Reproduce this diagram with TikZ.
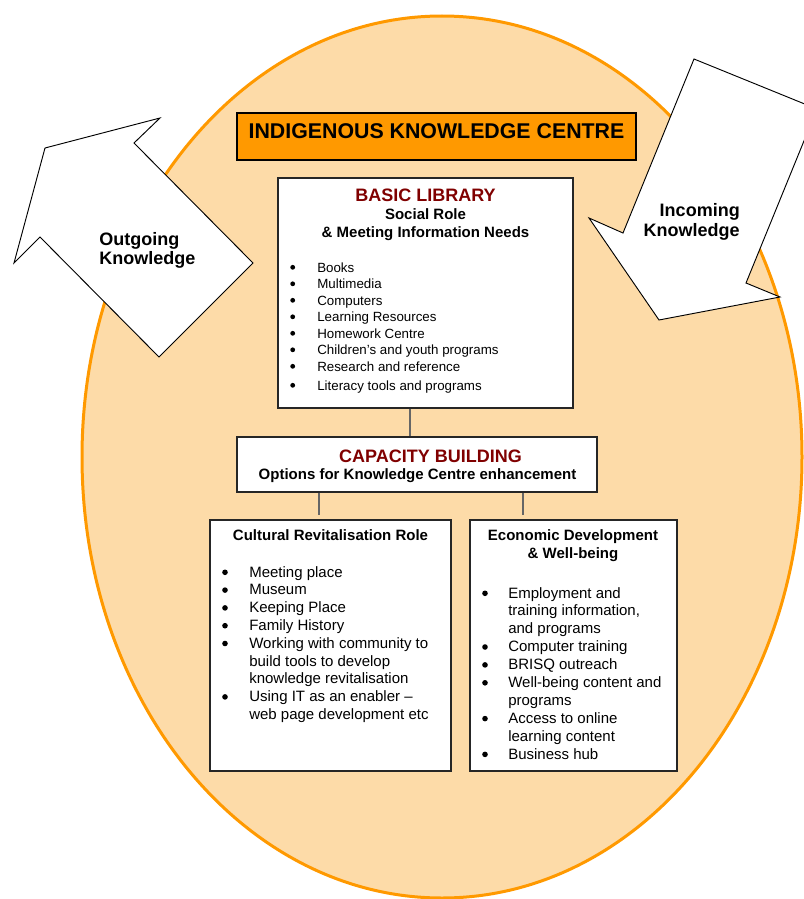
\documentclass[tikz,border=0pt]{standalone}
\usepackage{fontspec}
\setmainfont{Liberation Sans}
\usetikzlibrary{fit}

\definecolor{kcorange}{RGB}{255,153,0}
\definecolor{kcfill}{RGB}{253,219,168}
\definecolor{kcred}{RGB}{128,0,0}

\tikzset{
	box/.style={draw=black!85, line width=1pt, fill=white, inner sep=0pt},
	link/.style={draw=black!60, line width=1.1pt},
	bigarrow/.style={draw=black, line width=0.7pt, fill=white, line join=miter},
	arrowlbl/.style={font=\fontsize{13.5}{16}\selectfont\bfseries, inner sep=0pt},
	head/.style={font=\fontsize{13.5}{16}\selectfont\bfseries, text=kcred, inner sep=0pt, anchor=base},
	sub/.style={font=\fontsize{11.25}{13.5}\selectfont\bfseries, inner sep=0pt, anchor=base},
	item/.style={font=\fontsize{10}{12}\selectfont, inner sep=0pt, anchor=base west},
	bigitem/.style={font=\fontsize{11.25}{13.5}\selectfont, inner sep=0pt, anchor=base west},
	dot/.style={circle, fill=black, inner sep=0pt, minimum size=3.6pt},
	bigdot/.style={dot, minimum size=4.2pt},
}

\begin{document}
\begin{tikzpicture}[x=0.75pt,y=-0.75pt]
	\useasboundingbox (0,0) rectangle (803,899);

	% the centre as a whole
	\draw [kcorange, line width=2.25pt, fill=kcfill] (442,457) ellipse [x radius=360, y radius=441];

	% knowledge flowing out and in
	\draw [bigarrow] (45,148) -- (160,118) -- (134,143) -- (253,263) -- (159,357) -- (40,237) -- (14,263) -- cycle;
	\foreach \t [count=\i] in {Outgoing, Knowledge}
		\node [arrowlbl, anchor=base west] (out-\i) at (99,226+19*\i) {\t};
	\draw [bigarrow] (694,59) -- (817,109) -- (746,283) -- (780,297) -- (659,320) -- (589,218) -- (623,233) -- cycle;
	\node [arrowlbl, anchor=base east] (in-1) at (740,216) {Incoming};
	\node [arrowlbl, anchor=base east] (in-2) at (740,236) {Knowledge};

	% boxes
	\node [box, fill=kcorange, draw=black, fit={(237,113) (636,160)}] (title) {};
	\node [box, fit={(278,178) (573,408)}] (basic) {};
	\node [box, fit={(237,437) (597,492)}] (cap) {};
	\node [box, fit={(210,520) (451,771)}] (cult) {};
	\node [box, fit={(470,520) (677,771)}] (econ) {};

	% links between the boxes
	\draw [link] (basic.south -| 410,0) -- (cap.north -| 410,0);
	\draw [link, shorten >=3.5pt] (cap.south -| 319,0) -- (cult.north -| 319,0);
	\draw [link, shorten >=3.5pt] (cap.south -| 523,0) -- (econ.north -| 523,0);

	\node [font=\fontsize{16}{19}\selectfont\bfseries, inner sep=0pt, anchor=base] (title-txt) at (436.5,138.3) {INDIGENOUS KNOWLEDGE CENTRE};

	% basic library
	\node [head] (basic-head) at (425.5,201) {BASIC LIBRARY};
	\node [sub] (basic-sub1) at (425.5,219) {Social Role};
	\node [sub] (basic-sub2) at (425.5,237) {\& Meeting Information Needs};
	\foreach \y/\t [count=\i] in {272/Books, 288.5/Multimedia, 305/Computers, 321.5/Learning Resources,
			338/Homework Centre, 354.5/Children’s and youth programs, 371/Research and reference,
			390/Literacy tools and programs}
	{
		\node [dot] (basic-dot-\i) at (292.7,\y-4.7) {};
		\node [item] (basic-item-\i) at (317,\y) {\t};
	}

	% capacity building
	\node [head] (cap-head) at (430.5,462) {CAPACITY BUILDING};
	\node [sub] (cap-sub) at (417.5,479) {Options for Knowledge Centre enhancement};

	% cultural revitalisation
	\node [sub] (cult-head) at (330.5,540) {Cultural Revitalisation Role};
	\foreach \t [count=\i from 0] in {Meeting place, Museum, Keeping Place, Family History,
			Working with community to, build tools to develop, knowledge revitalisation,
			Using IT as an enabler –, web page development etc}
		\node [bigitem] (cult-item-\i) at (249,577+17.8*\i) {\t};
	\foreach \i in {0,1,2,3,4,7}
		\node [bigdot] (cult-dot-\i) at (225,572.3+17.8*\i) {};

	% economic development
	\node [sub] (econ-head1) at (573,540) {Economic Development};
	\node [sub] (econ-head2) at (573,558) {\& Well-being};
	\foreach \t [count=\i from 0] in {Employment and, {training information,}, and programs,
			Computer training, BRISQ outreach, Well-being content and, programs,
			Access to online, learning content, Business hub}
		\node [bigitem] (econ-item-\i) at (508,598+17.9*\i) {\t};
	\foreach \i in {0,3,4,5,7,9}
		\node [bigdot] (econ-dot-\i) at (485,593.3+17.9*\i) {};
\end{tikzpicture}
\end{document}
